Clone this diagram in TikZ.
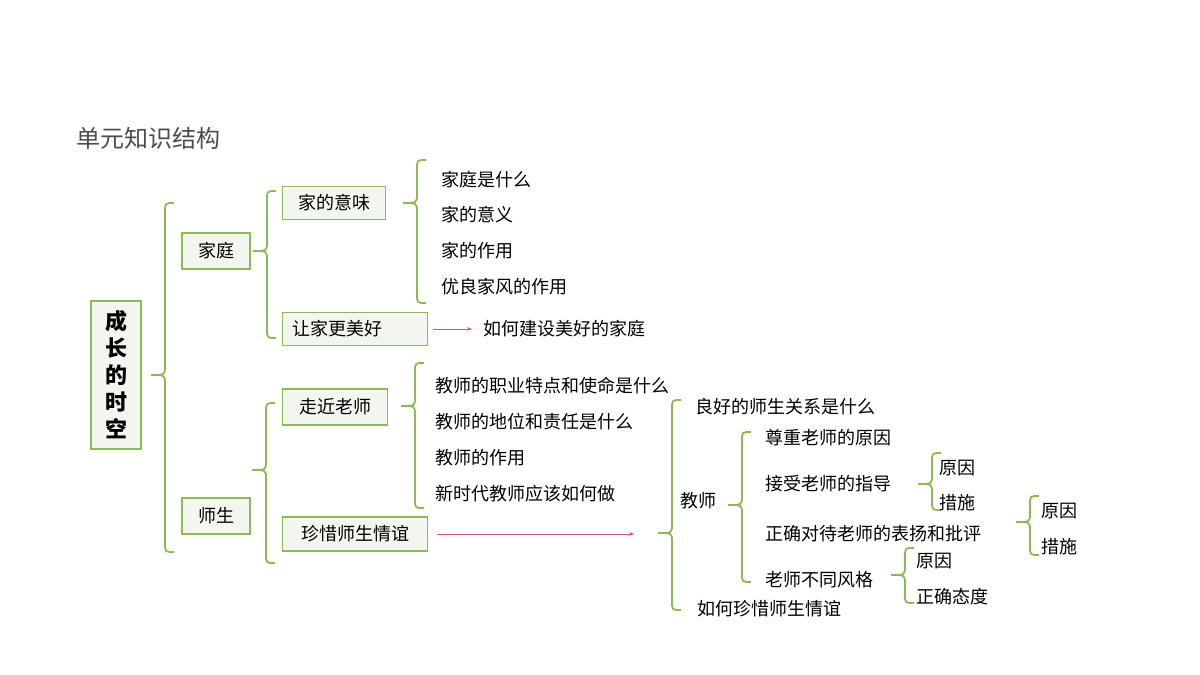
\documentclass[tikz,border=0pt]{standalone}
\usepackage{fontspec}
\setmainfont{Noto Sans CJK SC}
\usetikzlibrary{arrows.meta}
\definecolor{leaf}{HTML}{8DB957}
\definecolor{boxfill}{HTML}{F3F6EE}
\definecolor{arrred}{HTML}{E0507A}
% curly brace: x of spine, top, tip, bottom
\newcommand\gbrace[4]{%
  \draw[brc] (#1+9,#2) .. controls (#1,#2) .. (#1,#2+9) -- (#1,#3-9)
    .. controls (#1,#3) .. (#1-14,#3) .. controls (#1,#3) .. (#1,#3+9)
    -- (#1,#4-9) .. controls (#1,#4) .. (#1+9,#4);}
\begin{document}
\begin{tikzpicture}[
  x=1pt, y=-1pt,
  box/.style={draw=leaf, fill=boxfill, line width=1.2pt, inner sep=0pt, font=\fontsize{18}{20}\selectfont},
  txt/.style={anchor=west, inner sep=0pt, font=\fontsize{18}{20}\selectfont},
  brc/.style={draw=leaf, line width=1.8pt},
  arr/.style={draw=arrred, line width=0.8pt, -{Stealth[length=5pt]}}
]
  \useasboundingbox (0,0) rectangle (1200,675);
  \node[anchor=west, inner sep=0pt, text=black!70, font=\fontsize{24}{26}\selectfont] (title) at (76,138) {单元知识结构};

  \node[box, minimum width=50pt, minimum height=148pt, align=center, font=\fontsize{22}{27}\bfseries\selectfont] (root) at (116,375) {成\\长\\的\\时\\空};
  \gbrace{165}{203}{375}{552}

  \node[box, minimum width=68pt, minimum height=36pt] (home) at (216,251) {家庭};
  \node[box, minimum width=68pt, minimum height=36pt] (ts) at (216,516) {师生};

  \gbrace{267}{191}{251}{338}
  \node[box, minimum width=103pt, minimum height=33pt] (meaning) at (334,203) {家的意味};
  \node[box, minimum width=145pt, minimum height=33pt, text width=125pt] (better) at (355,329) {让家更美好};

  \gbrace{417}{160}{203}{303}
  \node[txt] (h1) at (441,180) {家庭是什么};
  \node[txt] (h2) at (441,215) {家的意义};
  \node[txt] (h3) at (441,251) {家的作用};
  \node[txt] (h4) at (441,287) {优良家风的作用};
  \node[txt] (build) at (483,329) {如何建设美好的家庭};
  \draw[arr] (better.east) ++(5,0) coordinate (b0) (b0) -- (build.west -| 472,0);

  \gbrace{266}{403}{470}{563}
  \node[box, minimum width=105pt, minimum height=36pt] (near) at (335,407) {走近老师};
  \node[box, minimum width=145pt, minimum height=34pt] (cherish) at (355,534) {珍惜师生情谊};

  \gbrace{415}{363}{406}{508}
  \node[txt] (t1) at (435,386) {教师的职业特点和使命是什么};
  \node[txt] (t2) at (435,422) {教师的地位和责任是什么};
  \node[txt] (t3) at (435,458) {教师的作用};
  \node[txt] (t4) at (435,494) {新时代教师应该如何做};
  \coordinate (c1) at (634,534);
  \draw[arr] (cherish.east) ++(9,0) coordinate (c0) (c0) -- (c1);

  \gbrace{672}{400}{533}{610}
  \node[txt] (good) at (695,407) {良好的师生关系是什么};
  \node[txt] (teacher) at (680,501) {教师};
  \node[txt] (how) at (697,609) {如何珍惜师生情谊};

  \gbrace{742}{432}{505}{582}
  \node[txt] (respect) at (765,438) {尊重老师的原因};
  \node[txt] (accept) at (765,484) {接受老师的指导};
  \node[txt] (praise) at (765,534) {正确对待老师的表扬和批评};
  \node[txt] (style) at (765,580) {老师不同风格};

  \gbrace{932}{453}{484}{510}
  \node[txt] (a1) at (939,468) {原因};
  \node[txt] (a2) at (939,503) {措施};
  \gbrace{1030}{496}{522}{555}
  \node[txt] (p1) at (1041,511) {原因};
  \node[txt] (p2) at (1041,547) {措施};
  \gbrace{905}{548}{575}{603}
  \node[txt] (s1) at (916,561) {原因};
  \node[txt] (s2) at (916,597) {正确态度};
\end{tikzpicture}
\end{document}
